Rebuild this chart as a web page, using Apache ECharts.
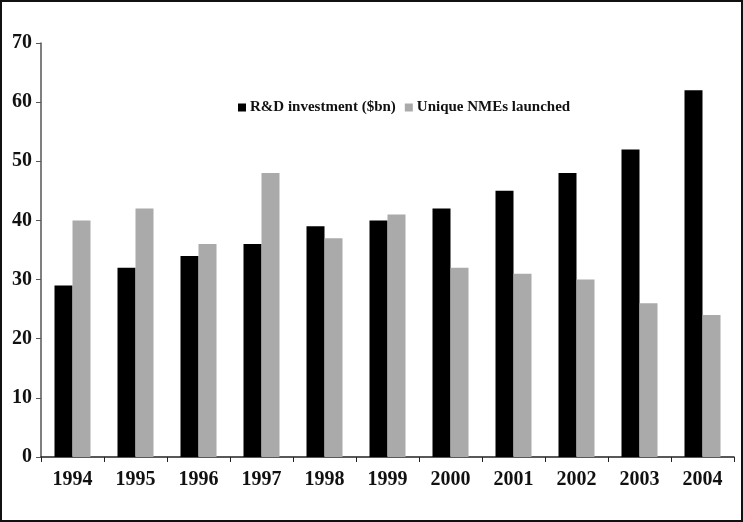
<!DOCTYPE html>
<html>
<head>
<meta charset="utf-8">
<script src="https://cdn.jsdelivr.net/npm/echarts@6/dist/echarts.min.js"></script>
<style>html,body{margin:0;padding:0;background:#fff}#c{width:743px;height:522px}</style>
</head>
<body>
<div id="c"></div>
<script>
const years = ['1994','1995','1996','1997','1998','1999','2000','2001','2002','2003','2004'];
const rdInvestment = [29, 32, 34, 36, 39, 40, 42, 45, 48, 52, 62];
const uniqueNMEs = [40, 42, 36, 48, 37, 41, 32, 31, 30, 26, 24];
const seriesNames = ['R&D investment ($bn)', 'Unique NMEs launched'];

const chart = echarts.init(document.getElementById('c'));
const font = '"Liberation Serif", "Times New Roman", serif';
chart.setOption({
  animation: false,
  backgroundColor: '#fff',
  graphic: [{
    type: 'rect', shape: {x: 1, y: 1, width: 741, height: 520},
    style: {fill: 'none', stroke: '#111', lineWidth: 2}, silent: true
  }],
  grid: {left: 41, right: 9, top: 43, bottom: 65, containLabel: false},
  legend: {
    left: 233, top: 95, itemWidth: 8, itemHeight: 8, itemGap: 9,
    icon: 'rect',
    textStyle: {fontFamily: font, fontWeight: 'bold', fontSize: 15, color: '#111', padding: [0, 0, 0, -1]},
    data: seriesNames
  },
  xAxis: {
    type: 'category', data: years,
    axisLine: {lineStyle: {color: '#222', width: 1.5}},
    axisTick: {show: true, length: 5, lineStyle: {color: '#222'}},
    axisLabel: {fontFamily: font, fontWeight: 'bold', fontSize: 20, color: '#111', margin: 13}
  },
  yAxis: {
    type: 'value', min: 0, max: 70, interval: 10,
    splitLine: {show: false},
    axisLine: {show: true, lineStyle: {color: '#555', width: 1.5}},
    axisTick: {show: true, length: 5, lineStyle: {color: '#555'}},
    axisLabel: {fontFamily: font, fontWeight: 'bold', fontSize: 20, color: '#111', margin: 9}
  },
  series: [
    {name: seriesNames[0], type: 'bar', data: rdInvestment, barWidth: 18, barGap: '0%', itemStyle: {color: '#000'}},
    {name: seriesNames[1], type: 'bar', data: uniqueNMEs, barWidth: 18, barGap: '0%', itemStyle: {color: '#aaaaaa'}}
  ]
});
</script>
</body>
</html>
